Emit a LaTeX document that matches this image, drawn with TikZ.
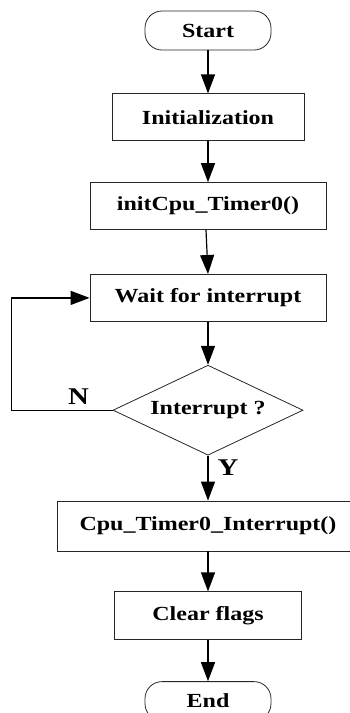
\documentclass[tikz,border=0pt]{standalone}
\usepackage{fontspec}
\setmainfont{Liberation Serif}[FakeStretch=1.2]
\usepackage{tikz}
\usetikzlibrary{shapes.geometric, arrows.meta, positioning}

\begin{document}
\begin{tikzpicture}[
    node distance=43pt,
    every node/.style={font=\fontsize{20}{24}\selectfont\bfseries},
    block/.style={draw=black!85, line width=0.8pt, rectangle, minimum height=47pt, inner sep=0pt},
    term/.style={draw=black!85, line width=0.8pt, rectangle, rounded corners=17pt, minimum width=126pt, minimum height=39pt},
    decision/.style={draw=black!85, line width=0.8pt, diamond, aspect=2.13, minimum width=190pt, minimum height=90pt, inner sep=0pt},
    flow/.style={line width=1.2pt, -{Triangle[width=14pt,length=19pt]}},
    answer/.style={font=\fontsize{24}{28}\selectfont\bfseries}
  ]
  \useasboundingbox (0,0) rectangle (350pt,-713pt);

  \node[term] (start) at (208pt,-30.5pt) {Start};
  \node[block, minimum width=192pt, below=of start] (init) {Initialization};
  \node[block, minimum width=236pt, below=41pt of init] (timer) {initCpu\_Timer0()};
  \node[block, minimum width=236pt, below=44pt of timer] (wait) {Wait for interrupt};
  \node[decision, below=of wait] (dec) {Interrupt ?};
  \node[block, minimum width=302pt, minimum height=50pt, below=45pt of dec] (isr) {Cpu\_Timer0\_Interrupt()};
  \node[block, minimum width=187pt, minimum height=48pt, below=40pt of isr] (clear) {Clear flags};
  \node[term, below=41pt of clear] (end) {End};

  \node[answer] (nlab) at ([xshift=-34pt,yshift=14pt]dec.west) {N};
  \node[answer] (ylab) at ([xshift=20pt,yshift=-12pt]dec.south) {Y};

  \draw[flow] (start) -- (init);
  \draw[flow] (init) -- (timer);
  \draw[flow] ([xshift=-2pt]timer.south) -- (wait.north);
  \draw[flow] (wait) -- (dec);
  \draw[flow] (dec) -- (isr);
  \draw[flow] (isr) -- (clear);
  \draw[flow] (clear) -- (end);
  \draw[flow] (dec.west) -- ++(-101pt,0) |- (wait.west);
\end{tikzpicture}
\end{document}
